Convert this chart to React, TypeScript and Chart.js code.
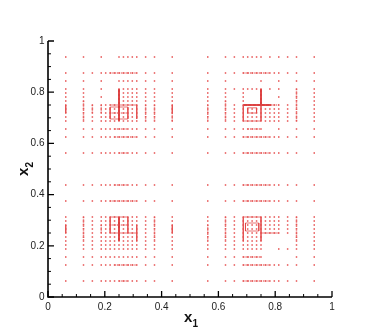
import React, { useEffect, useRef } from "react";
import { Chart, registerables } from "chart.js";
Chart.register(...registerables);

// grid offsets from each refinement centre, in units of 1/64
const X_LEVELS = [-12, -8, -6, -4, -3, -2, -1, 0, 1, 2, 3, 4, 6, 8, 12];
const Y_LEVELS = [12, 8, 6, 4, 3, 2, 1, 0, -1, -2, -3, -4, -6, -8, -12];
const STEP = 1 / 64;

const CENTER_TL = [0.25, 0.75];
const CENTER_TR = [0.75, 0.75];
const CENTER_BL = [0.25, 0.25];
const CENTER_BR = [0.75, 0.25];

const FULL = "xxxxxxxxxxxxxxx";
const NONE = "...............";

const MASK_TL = [
  "xx.x...xxxxxxxx",
  FULL,
  "xx.x...xxxxxxxx",
  "xx.x...xxxxxxxx",
  "xx.....xxxxxxxx",
  "xx.x...xxxxxxxx",
  "xx.....xxxxxxxx",
  FULL, FULL, FULL, FULL, FULL, FULL, FULL, FULL,
];
const MASK_TR = [
  "xxxxxxxx.x.xxxx",
  FULL,
  "xx.....x...x.xx",
  "xxxxxxxx.x.x.xx",
  "xx.x...x.....xx",
  "xx.x...x...x.xx",
  "xx.x...x.....xx",
  FULL, FULL, FULL, FULL, FULL,
  "xxxxxxxx...x.xx",
  FULL, FULL,
];
const MASK_BL = [
  FULL, FULL, NONE, FULL, FULL, FULL, FULL, FULL,
  FULL, FULL, FULL, FULL, FULL, FULL, FULL,
];
const MASK_BR = [
  FULL, FULL, NONE, FULL, FULL, FULL, FULL, FULL,
  "xxxxxxxx.....xx",
  "xxxxxxxx.....xx",
  "xxxxxxxx.....xx",
  "xxxxxxxx...xxxx",
  "xxxxxxxx.....xx",
  FULL, FULL,
];

// dense refinement segments [x0, y0, x1, y1, kind]  kind: 0 thick, 1 thin line, 2 dotted row
const SEG_TL = [
  [0, 4, 0, -4, 0],
  [-2, 0, 4, 0, 1],
  [4, 0, 4, -3.5, 1],
  [-2, -0.5, 2, -0.5, 1],
  [-2, -3.5, 2, -3.5, 1],
  [-2, -0.5, -2, -3.5, 1],
  [2, -0.5, 2, -3.5, 1],
  [-2, -2, 2, -2, 2],
  [-2, 8, 4, 8, 2],
  [-1, -6, 2, -6, 2],
  [-1, -8, 4, -8, 2],
  [0, -12, 2, -12, 2],
  [-12, 0, -12, -2, 1],
  [-8, 1, -8, -4, 2],
  [6, 0, 6, -4, 2],
  [8, 0, 8, -4, 2],
  [12, 0, 12, -2, 1],
  [12, -2, 12, -4, 2],
  [-6, 0, -6, -2, 2],
  [-4, 0, -4, -2, 2],
];
const SEG_TR = [
  [0, 4, 0, 0, 0],
  [-4, 0, 2.3, 0, 0],
  [2.3, 0, 4, 0, 2],
  [-4, 0, -4, -4, 1],
  [-4, -4, 0, -4, 1],
  [0, 0, 0, -4, 1],
  [-3, -0.7, -1, -0.7, 1],
  [-3, -2, -1, -2, 1],
  [-3, -0.7, -3, -2, 1],
  [-1, -0.7, -1, -2, 1],
  [-4, 8, 2, 8, 2],
  [-4, -8, 2, -8, 2],
  [-4, -12, 2, -12, 2],
  [-3, -6, 0, -6, 2],
  [-12, 0, -12, -4, 2],
  [-8, 1, -8, -4, 2],
  [8, 4, 8, -4, 2],
];
const SEG_BL = [
  [0, 4, 0, -2, 0],
  [-2, 4, 2, 4, 1],
  [-2, 4, -2, 0, 1],
  [2, 4, 2, 0, 1],
  [-2, 0, 4, 0, 1],
  [4, 2, 4, -2, 1],
  [-2, 2, 2, 2, 2],
  [-1, 12, 2, 12, 2],
  [-2, 8, 4, 8, 2],
  [-1, -8, 4, -8, 2],
  [0, -12, 2, -12, 2],
  [-8, 4, -8, -2, 2],
  [-12, 2, -12, 0, 1],
  [-4, 2, -4, 0, 2],
  [8, 4, 8, -2, 2],
  [12, 2, 12, 0, 1],
];
const SEG_BR = [
  [-4, 4, 0, 4, 1],
  [0, 4, 0, -2, 1],
  [-4, 4, -4, -2, 1],
  [0, 0, 4, 0, 1],
  [-3.5, 2.5, -0.5, 2.5, 1],
  [-3.5, 0.5, -0.5, 0.5, 1],
  [-3.5, 2.5, -3.5, 0.5, 1],
  [-0.5, 2.5, -0.5, 0.5, 1],
  [-4, 12, 2, 12, 2],
  [-4, 8, 2, 8, 2],
  [-4, -6, 0, -6, 2],
  [-4, -8, 2, -8, 2],
  [-4, -12, 2, -12, 2],
  [-8, 4, -8, -2, 2],
  [8, 4, 8, -2, 2],
  [-12, 2, -12, -2, 2],
];

const MAJOR_TICKS = [0, 0.2, 0.4, 0.6, 0.8, 1];
const TICK_LABELS = ["0", "0.2", "0.4", "0.6", "0.8", "1"];
const MINOR_TICKS = [0.05, 0.1, 0.15, 0.25, 0.3, 0.35, 0.45, 0.5, 0.55, 0.65, 0.7, 0.75, 0.85, 0.9, 0.95];

const QUADS = [
  { c: CENTER_TL, m: MASK_TL, s: SEG_TL },
  { c: CENTER_TR, m: MASK_TR, s: SEG_TR },
  { c: CENTER_BL, m: MASK_BL, s: SEG_BL },
  { c: CENTER_BR, m: MASK_BR, s: SEG_BR },
];

const SEG_STYLE = [
  { color: "rgb(214,45,45)", width: 1.8, dash: [] as number[] },
  { color: "rgba(224,70,70,0.75)", width: 1, dash: [] as number[] },
  { color: "rgba(228,85,85,0.8)", width: 1.4, dash: [1.3, 0.9] },
];

const axesPlugin = {
  id: "tecAxes",
  afterDraw(chart: any) {
    const { ctx } = chart;
    const xs = chart.scales.x;
    const ys = chart.scales.y;
    const x0 = xs.getPixelForValue(0);
    const x1 = xs.getPixelForValue(1);
    const y0 = ys.getPixelForValue(0);
    const y1 = ys.getPixelForValue(1);
    ctx.save();
    ctx.strokeStyle = "#000";
    ctx.lineWidth = 1.6;
    ctx.beginPath();
    ctx.moveTo(x0, y1);
    ctx.lineTo(x0, y0);
    ctx.lineTo(x1, y0);
    ctx.stroke();
    ctx.lineWidth = 1;
    ctx.beginPath();
    for (const v of MINOR_TICKS) {
      const px = xs.getPixelForValue(v);
      ctx.moveTo(px, y0);
      ctx.lineTo(px, y0 - 3);
      const py = ys.getPixelForValue(v);
      ctx.moveTo(x0, py);
      ctx.lineTo(x0 + 3, py);
    }
    ctx.stroke();
    ctx.lineWidth = 1.3;
    ctx.beginPath();
    for (const v of MAJOR_TICKS) {
      const px = xs.getPixelForValue(v);
      ctx.moveTo(px, y0);
      ctx.lineTo(px, y0 - 6);
      const py = ys.getPixelForValue(v);
      ctx.moveTo(x0, py);
      ctx.lineTo(x0 + 6, py);
    }
    ctx.stroke();

    ctx.fillStyle = "#222";
    ctx.font = '10px "Liberation Sans", Arial, sans-serif';
    ctx.textAlign = "center";
    ctx.textBaseline = "alphabetic";
    MAJOR_TICKS.forEach((v, i) => {
      ctx.fillText(TICK_LABELS[i], xs.getPixelForValue(v), y0 + 13);
    });
    ctx.textAlign = "right";
    ctx.textBaseline = "middle";
    MAJOR_TICKS.forEach((v, i) => {
      ctx.fillText(TICK_LABELS[i], x0 - 3.5, ys.getPixelForValue(v));
    });

    const drawTitle = (main: string, sub: string) => {
      ctx.font = 'bold 15px "Liberation Sans", Arial, sans-serif';
      const w1 = ctx.measureText(main).width;
      ctx.font = 'bold 10px "Liberation Sans", Arial, sans-serif';
      const w2 = ctx.measureText(sub).width;
      const start = -(w1 + w2) / 2;
      ctx.textAlign = "left";
      ctx.textBaseline = "alphabetic";
      ctx.font = 'bold 15px "Liberation Sans", Arial, sans-serif';
      ctx.fillText(main, start, 0);
      ctx.font = 'bold 10px "Liberation Sans", Arial, sans-serif';
      ctx.fillText(sub, start + w1, 4.5);
    };
    ctx.fillStyle = "#111";
    ctx.save();
    ctx.translate((x0 + x1) / 2 + 1, 322);
    drawTitle("x", "1");
    ctx.restore();
    ctx.save();
    ctx.translate(28, (y0 + y1) / 2);
    ctx.rotate(-Math.PI / 2);
    drawTitle("x", "2");
    ctx.restore();
    ctx.restore();
  },
};

export default function App() {
  const ref = useRef<HTMLCanvasElement>(null);
  useEffect(() => {
    const points: { x: number; y: number }[] = [];
    const segSets: any[] = [];
    for (const q of QUADS) {
      const [cx, cy] = q.c;
      q.m.forEach((row, r) => {
        for (let c = 0; c < row.length; c++) {
          if (row[c] === "x") points.push({ x: cx + X_LEVELS[c] * STEP, y: cy + Y_LEVELS[r] * STEP });
        }
      });
      for (const s of q.s) {
        const st = SEG_STYLE[s[4]];
        segSets.push({
          data: [
            { x: cx + s[0] * STEP, y: cy + s[1] * STEP },
            { x: cx + s[2] * STEP, y: cy + s[3] * STEP },
          ],
          showLine: true,
          borderColor: st.color,
          borderWidth: st.width,
          borderDash: st.dash,
          pointRadius: 0,
          fill: false,
        });
      }
    }
    const chart = new Chart(ref.current!, {
      type: "scatter",
      data: {
        datasets: [
          {
            data: points,
            pointStyle: "rect",
            pointRadius: 1.05,
            pointBorderWidth: 0,
            backgroundColor: "rgb(230,78,78)",
            borderColor: "rgb(230,78,78)",
          },
          ...segSets,
        ],
      },
      options: {
        responsive: false,
        animation: false,
        devicePixelRatio: 1,
        layout: { padding: { left: 48, right: 46, top: 41, bottom: 39 } },
        scales: {
          x: { type: "linear", min: 0, max: 1, display: false },
          y: { type: "linear", min: 0, max: 1, display: false },
        },
        plugins: { legend: { display: false }, tooltip: { enabled: false } },
        events: [],
      },
      plugins: [axesPlugin],
    });
    return () => chart.destroy();
  }, []);
  return (
    <div style={{ position: "fixed", left: 0, top: 0, width: 378, height: 336, background: "#fff" }}>
      <canvas ref={ref} width={378} height={336} style={{ width: 378, height: 336, display: "block" }} />
    </div>
  );
}
